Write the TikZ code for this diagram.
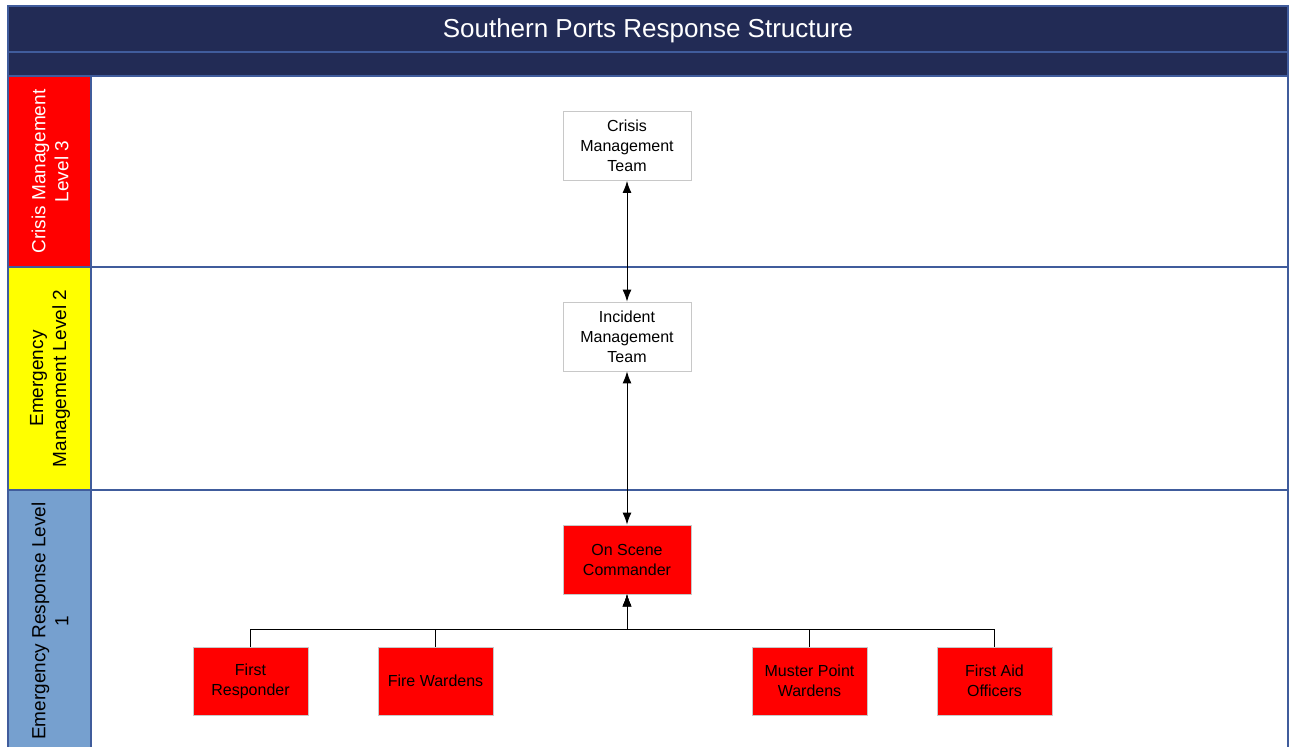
\documentclass[tikz,border=0pt]{standalone}
\usepackage{fontspec}
\setmainfont{Liberation Sans}
\usetikzlibrary{arrows.meta}
\definecolor{navy}{RGB}{34,43,85}
\definecolor{laneline}{RGB}{64,92,156}
\definecolor{boxgray}{RGB}{200,200,200}
\definecolor{lanered}{RGB}{255,0,0}
\definecolor{laneyellow}{RGB}{255,255,0}
\definecolor{laneblue}{RGB}{118,160,207}
\tikzset{
  lanehead/.style={draw=laneline, line width=1.3pt},
  lanelabel/.style={rotate=90, align=center, font=\fontsize{19}{23}\selectfont},
  orgbox/.style={draw=boxgray, line width=0.8pt, minimum width=128pt, minimum height=69pt, align=center, font=\fontsize{16}{20}\selectfont, inner sep=0pt},
  smallbox/.style={orgbox, minimum width=115pt, minimum height=68pt},
  link/.style={draw=black, line width=1pt},
  tip/.style={-{Latex[length=12pt,width=9pt]}},
  tips/.style={{Latex[length=12pt,width=9pt]}-{Latex[length=12pt,width=9pt]}}
}
\begin{document}
\begin{tikzpicture}[x=1pt,y=-1pt]
\useasboundingbox (0,0) rectangle (1291,747);
\fill[white] (0,0) rectangle (1291,747);
% title bands
\filldraw[fill=navy, draw=laneline, line width=1.3pt] (8,6) rectangle (1288,52);
\filldraw[fill=navy, draw=laneline, line width=1.3pt] (8,52) rectangle (1288,76);
\node[text=white, font=\fontsize{26}{30}\selectfont] (title) at (648,31) {Southern Ports Response Structure};
% lanes
\draw[laneline, line width=1.3pt] (8,76) rectangle (1288,267);
\draw[laneline, line width=1.3pt] (8,267) rectangle (1288,490);
\draw[laneline, line width=1.3pt] (8,490) rectangle (1288,752);
\filldraw[fill=lanered, lanehead] (8,76) rectangle (91,267);
\filldraw[fill=laneyellow, lanehead] (8,267) rectangle (91,490);
\filldraw[fill=laneblue, lanehead] (8,490) rectangle (91,752);
\node[lanelabel, text=white] (l3) at (50,171.5) {Crisis Management\\Level 3};
\node[lanelabel] (l2) at (50,378.5) {Emergency\\Management Level 2};
\node[lanelabel] (l1) at (50,621) {Emergency Response Level\\1};
% nodes
\node[orgbox, fill=white] (cmt) at (627,146) {Crisis\\Management\\Team};
\node[orgbox, fill=white] (imt) at (627,336.5) {Incident\\Management\\Team};
\node[orgbox, fill=lanered] (osc) at (627,559.5) {On Scene\\Commander};
\node[smallbox, fill=lanered] (fr) at (250.5,681) {First\\Responder};
\node[smallbox, fill=lanered] (fw) at (435.5,681) {Fire Wardens};
\node[smallbox, fill=lanered] (mpw) at (809.5,681) {Muster Point\\Wardens};
\node[smallbox, fill=lanered] (fao) at (994.5,681) {First Aid\\Officers};
\coordinate (bus) at (627,629);
% connectors
\draw[link, tips] (cmt.south) -- (imt.north);
\draw[link, tips] (imt.south) -- (osc.north);
\draw[link, tip] (fr.north) |- (bus) -- (osc.south);
\draw[link, tip] (fw.north) |- (bus) -- (osc.south);
\draw[link, tip] (mpw.north) |- (bus) -- (osc.south);
\draw[link, tip] (fao.north) |- (bus) -- (osc.south);
\end{tikzpicture}
\end{document}
